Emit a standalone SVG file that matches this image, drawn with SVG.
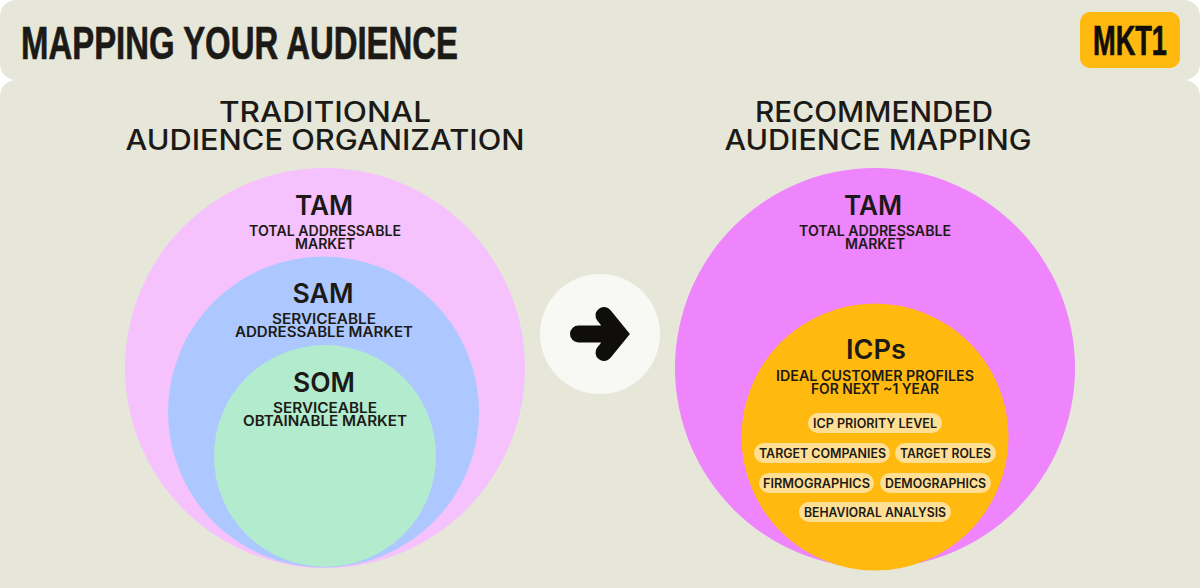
<svg xmlns="http://www.w3.org/2000/svg" width="1200" height="588" viewBox="0 0 1200 588">
<style>
text{font-family:Inter,"Liberation Sans",sans-serif;fill:#1c1a17;text-anchor:middle}
.panel{fill:#e6e7d9}
.h{font-size:28px;font-weight:500}
.t{font-size:27px;font-weight:600}
.s{font-size:14px;font-weight:600}
.p{font-size:12.500px;font-weight:600}
.pill{fill:#ffdf94}
.brand{font-family:"Liberation Sans",Arial,sans-serif;font-weight:700;text-anchor:start;stroke-width:.7px}
</style>
<rect width="1200" height="588" fill="#fff"/>
<g id="header">
<rect class="panel" x="0" y="0" width="1200" height="80" rx="16"/>
<text class="brand" x="21" y="58.500" font-size="47" textLength="437" lengthAdjust="spacingAndGlyphs" style="stroke:#1c1a17">MAPPING YOUR AUDIENCE</text>
</g>
<g id="logo">
<rect x="1080" y="12" width="100" height="56" rx="10" fill="#ffb90f"/>
<text class="brand" x="1093" y="54.500" font-size="42" textLength="74" lengthAdjust="spacingAndGlyphs" style="fill:#0f0e0d;stroke:#0f0e0d">MKT1</text>
</g>
<rect id="main-panel" class="panel" x="0" y="80" width="1200" height="524" rx="16"/>
<g id="traditional-title">
<text class="h" x="325" y="122" textLength="212" lengthAdjust="spacingAndGlyphs">TRADITIONAL</text>
<text class="h" x="325" y="150" textLength="399" lengthAdjust="spacingAndGlyphs">AUDIENCE ORGANIZATION</text>
</g>
<g id="tam-left">
<circle cx="325" cy="368" r="200" fill="#f5c2fd"/>
<text class="t" x="324" y="215" textLength="58" lengthAdjust="spacingAndGlyphs">TAM</text>
<text class="s" x="325" y="236" textLength="152" lengthAdjust="spacingAndGlyphs">TOTAL ADDRESSABLE</text>
<text class="s" x="325" y="249" textLength="60" lengthAdjust="spacingAndGlyphs">MARKET</text>
</g>
<g id="sam">
<circle cx="323.500" cy="412" r="155.500" fill="#adc8ff"/>
<text class="t" x="323" y="303" textLength="61" lengthAdjust="spacingAndGlyphs">SAM</text>
<text class="s" x="324" y="324" textLength="104" lengthAdjust="spacingAndGlyphs">SERVICEABLE</text>
<text class="s" x="324" y="337" textLength="178" lengthAdjust="spacingAndGlyphs">ADDRESSABLE MARKET</text>
</g>
<g id="som">
<circle cx="325" cy="456" r="111" fill="#b2ebcd"/>
<text class="t" x="324" y="392" textLength="62" lengthAdjust="spacingAndGlyphs">SOM</text>
<text class="s" x="325" y="413" textLength="104" lengthAdjust="spacingAndGlyphs">SERVICEABLE</text>
<text class="s" x="325" y="426" textLength="164" lengthAdjust="spacingAndGlyphs">OBTAINABLE MARKET</text>
</g>
<g id="connectors">
<circle cx="600" cy="334" r="60" fill="#f8f9f5"/>
<path d="M578.500 334H618M604 315.500L619 334L604 352.500" fill="none" stroke="#0f0e0d" stroke-width="17" stroke-linecap="round" stroke-linejoin="miter"/>
</g>
<g id="recommended-title">
<text class="h" x="874" y="122" textLength="238" lengthAdjust="spacingAndGlyphs">RECOMMENDED</text>
<text class="h" x="878" y="150" textLength="307" lengthAdjust="spacingAndGlyphs">AUDIENCE MAPPING</text>
</g>
<g id="tam-right">
<circle cx="875" cy="368" r="200" fill="#ee85fc"/>
<text class="t" x="873" y="215" textLength="58" lengthAdjust="spacingAndGlyphs">TAM</text>
<text class="s" x="875" y="236" textLength="152" lengthAdjust="spacingAndGlyphs">TOTAL ADDRESSABLE</text>
<text class="s" x="875" y="249" textLength="60" lengthAdjust="spacingAndGlyphs">MARKET</text>
</g>
<g id="icps">
<circle cx="875" cy="437" r="133.500" fill="#ffb90f"/>
<text class="t" x="876" y="359" textLength="60" lengthAdjust="spacingAndGlyphs">ICPs</text>
<text class="s" x="875" y="381" textLength="198" lengthAdjust="spacingAndGlyphs">IDEAL CUSTOMER PROFILES</text>
<text class="s" x="875" y="394" textLength="128" lengthAdjust="spacingAndGlyphs">FOR NEXT ~1 YEAR</text>
</g>
<g id="pill-priority"><rect class="pill" x="808" y="413" width="134" height="20" rx="10"/><text class="p" x="875" y="427.500" textLength="124" lengthAdjust="spacingAndGlyphs">ICP PRIORITY LEVEL</text></g>
<g id="pill-companies"><rect class="pill" x="754" y="443" width="136" height="20" rx="10"/><text class="p" x="822.500" y="457.500" textLength="127" lengthAdjust="spacingAndGlyphs">TARGET COMPANIES</text></g>
<g id="pill-roles"><rect class="pill" x="895" y="443" width="101" height="20" rx="10"/><text class="p" x="945.500" y="457.500" textLength="91" lengthAdjust="spacingAndGlyphs">TARGET ROLES</text></g>
<g id="pill-firmographics"><rect class="pill" x="759" y="473" width="115" height="20" rx="10"/><text class="p" x="816.500" y="487.500" textLength="107" lengthAdjust="spacingAndGlyphs">FIRMOGRAPHICS</text></g>
<g id="pill-demographics"><rect class="pill" x="880" y="473" width="111" height="20" rx="10"/><text class="p" x="935.500" y="487.500" textLength="101" lengthAdjust="spacingAndGlyphs">DEMOGRAPHICS</text></g>
<g id="pill-behavioral"><rect class="pill" x="799" y="502" width="152" height="20" rx="10"/><text class="p" x="875" y="517" textLength="142" lengthAdjust="spacingAndGlyphs">BEHAVIORAL ANALYSIS</text></g>
</svg>
